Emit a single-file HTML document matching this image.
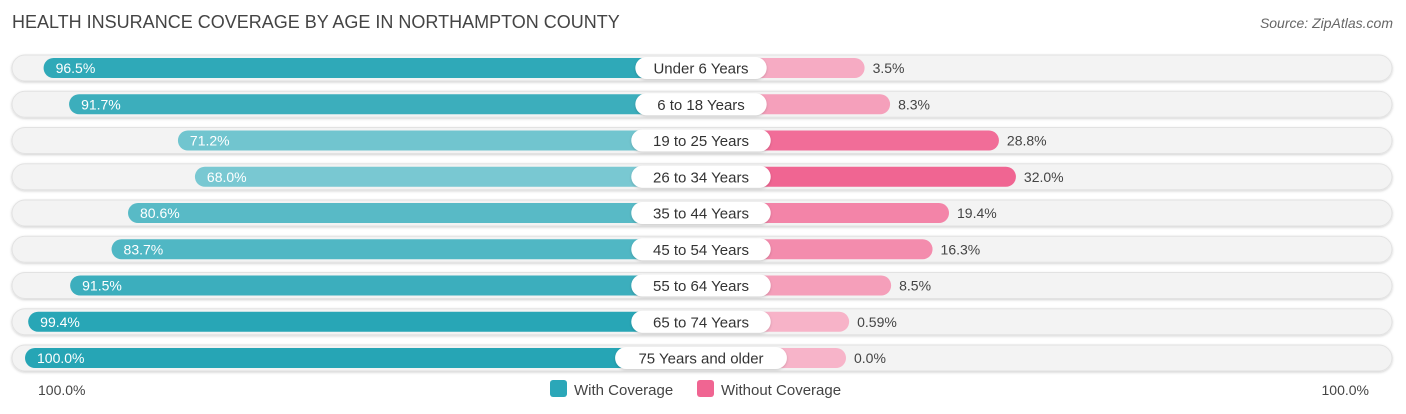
<!DOCTYPE html>
<html><head><meta charset="utf-8"><style>
body{margin:0;background:#fff;font-family:"Liberation Sans",sans-serif;}
#c{position:relative;width:1406px;height:414px;overflow:hidden;}
</style></head><body>
<div id="c">
<svg id="s" width="1406" height="414" xmlns="http://www.w3.org/2000/svg">
<defs><filter id="sh" x="-5%" y="-30%" width="110%" height="160%"><feDropShadow dx="0" dy="1" stdDeviation="1.2" flood-color="#000" flood-opacity="0.18"/></filter></defs>
<text x="12" y="28" font-size="18" fill="#444">HEALTH INSURANCE COVERAGE BY AGE IN NORTHAMPTON COUNTY</text>
<text x="1393" y="28" font-size="14" fill="#666" font-style="italic" text-anchor="end">Source: ZipAtlas.com</text>
<g id="rows"></g>
<text x="38" y="395" font-size="14" fill="#444">100.0%</text>
<text x="1369" y="395" font-size="14" fill="#444" text-anchor="end">100.0%</text>
<g><rect x="550" y="380" width="17" height="17" rx="3" fill="#2ba7b8"/><text x="574" y="395" font-size="15" fill="#444">With Coverage</text></g>
<g><rect x="697" y="380" width="17" height="17" rx="3" fill="#f06592"/><text x="721" y="395" font-size="15" fill="#444">Without Coverage</text></g>
</svg>
</div>
<script>
const categories=["Under 6 Years","6 to 18 Years","19 to 25 Years","26 to 34 Years","35 to 44 Years","45 to 54 Years","55 to 64 Years","65 to 74 Years","75 Years and older"];
const withCov=[96.5,91.7,71.2,68.0,80.6,83.7,91.5,99.4,100.0];
const withoutCov=[3.5,8.3,28.8,32.0,19.4,16.3,8.5,0.59,0.0];
const withLabels=["96.5%","91.7%","71.2%","68.0%","80.6%","83.7%","91.5%","99.4%","100.0%"];
const withoutLabels=["3.5%","8.3%","28.8%","32.0%","19.4%","16.3%","8.5%","0.59%","0.0%"];
const NS="http://www.w3.org/2000/svg";
const CX=701,OFF=145,SC=5.31,Y0=68,DY=36.25;
const xl=v=>CX-OFF-v*SC, xr=v=>CX+OFF+v*SC;
function mk(t,a,p){const e=document.createElementNS(NS,t);for(const k in a)e.setAttribute(k,a[k]);p.appendChild(e);return e;}
function mix(c1,c2,t){return "rgb("+c1.map((c,i)=>Math.round(c+(c2[i]-c)*t)).join(",")+")";}
const g=document.getElementById("rows");
categories.forEach((cat,i)=>{
  const y=Y0+i*DY;
  const row=mk("g",{},g);
  
  
  const bg=mk("rect",{x:12,y:y-13,width:1380,height:26,rx:13,fill:"#f3f3f3",stroke:"#e2e2e2","stroke-width":1,filter:"url(#sh)"},row);
  
  
  const tw=(withCov[i]-60)/40;
  const lb=mk("rect",{x:xl(withCov[i]),y:y-10,width:CX-xl(withCov[i]),height:20,rx:10,fill:mix([142,209,217],[38,165,181],Math.max(0,Math.min(1,tw)))},row);
  
  
  const tp=Math.min(1,withoutCov[i]/32);
  const rb=mk("rect",{x:CX,y:y-10,width:xr(withoutCov[i])-CX,height:20,rx:10,fill:mix([247,180,201],[240,101,146],tp)},row);
  
  
  const lt=mk("text",{x:xl(withCov[i])+12,y:y+5,"font-size":14,fill:"#fff"},row);
  lt.textContent=withLabels[i];
  
  
  const rt=mk("text",{x:xr(withoutCov[i])+8,y:y+5,"font-size":14,fill:"#444"},row);
  rt.textContent=withoutLabels[i];
  
  
  const w=cat.length*8.1+26;
  const pill=mk("rect",{x:CX-w/2,y:y-11,width:w,height:22,rx:11,fill:"#fff",filter:"url(#sh)"},row);
  
  
  const ct=mk("text",{x:CX,y:y+5.5,"font-size":15,fill:"#333","text-anchor":"middle"},row);
  ct.textContent=cat;
  
  
});
</script>
</body></html>
